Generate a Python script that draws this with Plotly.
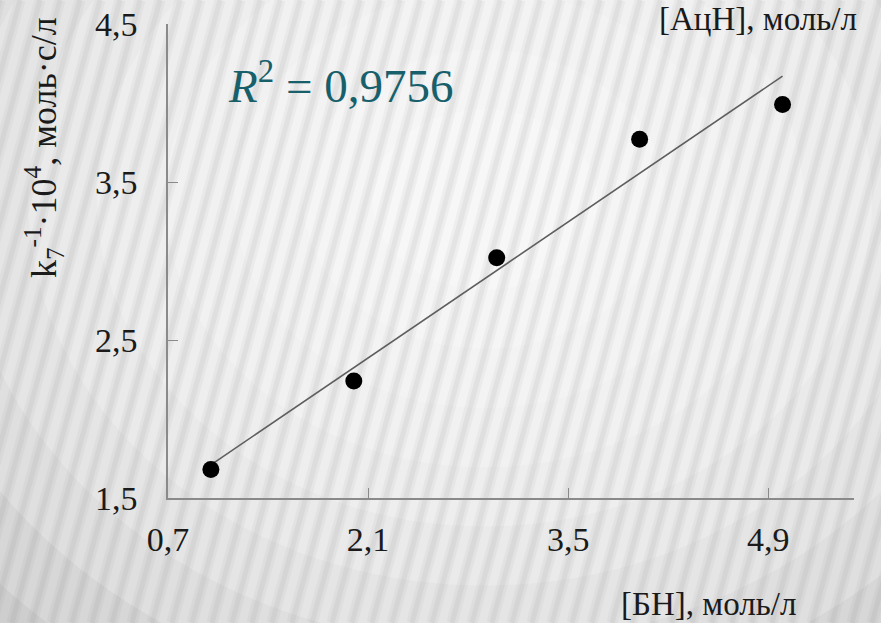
import numpy as np
import plotly.graph_objects as go

# Data
bn = [1.0, 2.0, 3.0, 4.0, 5.0]            # [БН], моль/л
k_inv = [1.68, 2.24, 3.02, 3.77, 3.99]    # k7^-1 · 10^4, моль·с/л
x_ticks = [0.7, 2.1, 3.5, 4.9]
x_tick_labels = ["0,7", "2,1", "3,5", "4,9"]
y_ticks = [1.5, 2.5, 3.5, 4.5]
y_tick_labels = ["1,5", "2,5", "3,5", "4,5"]
r2_text = "0,9756"

W, H = 881, 623

# linear trend from data
slope, intercept = np.polyfit(bn, k_inv, 1)
fit_x = [min(bn), max(bn)]
fit_y = [slope * v + intercept for v in fit_x]

fig = go.Figure()
fig.add_trace(go.Scatter(x=fit_x, y=fit_y, mode="lines",
                         line=dict(color="#5e5e5e", width=1.6),
                         hoverinfo="skip", showlegend=False))
fig.add_trace(go.Scatter(x=bn, y=k_inv, mode="markers",
                         marker=dict(color="black", size=17),
                         showlegend=False))

# background: vignette + diagonal stripes
shapes = []
cx, cy = 0.55, 0.68
n_layers = 10
for i in range(n_layers):
    f = 1 - i / n_layers
    rx, ry = 0.78 * f + 0.05, 0.95 * f + 0.05
    shapes.append(dict(type="circle", xref="paper", yref="paper",
                       x0=cx - rx, x1=cx + rx, y0=cy - ry, y1=cy + ry,
                       fillcolor="white", opacity=0.2, line=dict(width=0),
                       layer="below"))
period = 20
tilt = 168
for px in range(-tilt - 20, W + 20, period):
    for wdt, op in ((11, 0.055), (5, 0.07)):
        shapes.append(dict(type="line", xref="paper", yref="paper",
                           x0=px / W, y0=0, x1=(px + tilt) / W, y1=1,
                           line=dict(color="rgb(110,110,110)", width=wdt),
                           opacity=op, layer="below"))

font_family = "Liberation Serif, Times New Roman, serif"
axis_color = "#8a8a8a"

fig.update_layout(
    width=W, height=H,
    margin=dict(l=0, r=0, t=0, b=0, autoexpand=False),
    paper_bgcolor="#c2c2c2",
    plot_bgcolor="rgba(0,0,0,0)",
    shapes=shapes,
    font=dict(family=font_family, color="#1a1a1a", size=34),
    xaxis=dict(domain=[168 / W, 854 / W], range=[0.7, 5.5], automargin=False,
               tickvals=x_ticks, ticktext=x_tick_labels,
               showgrid=False, zeroline=False,
               showline=True, linecolor=axis_color, linewidth=1.6,
               ticks="inside", ticklen=10, tickcolor=axis_color, tickwidth=1.2,
               ticklabelstandoff=10,
               tickfont=dict(family=font_family, size=34, color="#1a1a1a")),
    yaxis=dict(domain=[1 - 498 / H, 1 - 24 / H], range=[1.5, 4.5], automargin=False,
               tickvals=y_ticks, ticktext=y_tick_labels,
               showgrid=False, zeroline=False,
               showline=True, linecolor=axis_color, linewidth=1.6,
               ticks="inside", ticklen=10, tickcolor=axis_color, tickwidth=1.2,
               ticklabelstandoff=22,
               tickfont=dict(family=font_family, size=34, color="#1a1a1a")),
    annotations=[
        dict(text="<i>R</i><sup>2</sup> = " + r2_text, xref="paper", yref="paper",
             x=226 / W, y=1 - 82 / H, xanchor="left", yanchor="middle",
             showarrow=False,
             font=dict(family=font_family, size=47, color="#17606b")),
        dict(text="k<sub>7</sub><sup>-1</sup>·10<sup>4</sup>, моль·с/л",
             xref="paper", yref="paper", x=44 / W, y=1 - 148 / H,
             xanchor="center", yanchor="middle", textangle=-90,
             showarrow=False, font=dict(family=font_family, size=36)),
        dict(text="[БН], моль/л", xref="paper", yref="paper",
             x=708 / W, y=1 - 604 / H, xanchor="center", yanchor="middle",
             showarrow=False, font=dict(family=font_family, size=33)),
        dict(text="[АцН], моль/л", xref="paper", yref="paper",
             x=758 / W, y=1 - 19 / H, xanchor="center", yanchor="middle",
             showarrow=False, font=dict(family=font_family, size=33)),
    ],
)

fig.write_html("out.html", config={"displayModeBar": False},
               post_script="document.body.style.margin='0';")
